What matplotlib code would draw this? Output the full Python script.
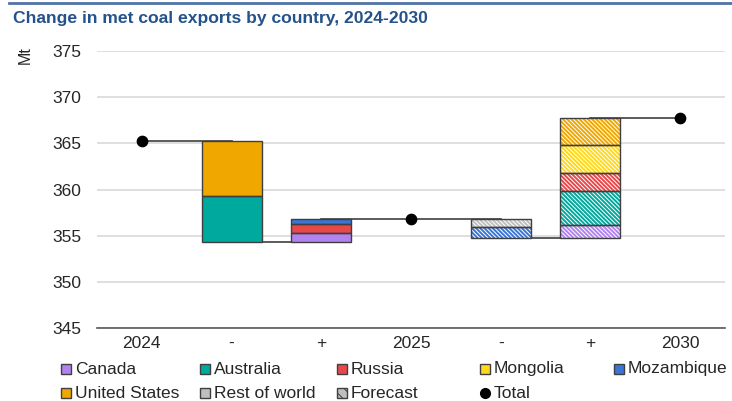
import matplotlib.pyplot as plt
from matplotlib.patches import Rectangle
from matplotlib.lines import Line2D

plt.rcParams['font.family'] = ['Liberation Sans', 'DejaVu Sans']
plt.rcParams['hatch.linewidth'] = 0.7

categories = ['2024', '-', '+', '2025', '-', '+', '2030']
totals = {'2024': 365.3, '2025': 356.8, '2030': 367.7}

# changes per step, listed from the bottom of each bar upwards
dec_2025 = [('Australia', 5.0), ('United States', 6.0)]
inc_2025 = [('Canada', 1.0), ('Russia', 1.0), ('Mozambique', 0.5)]
dec_2030 = [('Mozambique', 1.1), ('Rest of world', 0.9)]
inc_2030 = [('Canada', 1.4), ('Australia', 3.6), ('Russia', 2.0),
            ('Mongolia', 3.0), ('United States', 2.9)]

colors = {
    'Canada': '#B283EE',
    'Australia': '#00A99D',
    'Russia': '#E8484A',
    'Mongolia': '#FFD91A',
    'Mozambique': '#3A76D6',
    'United States': '#F0A800',
    'Rest of world': '#BFBFBF',
}
edge = '#3F3F3F'
hatch = '\\' * 8

fig = plt.figure(figsize=(7.32, 4.01), dpi=100)
ax = fig.add_axes([97 / 732, 1 - 328 / 401, 628 / 732, 277 / 401])


def stack(x, base, parts, forecast):
    y = base
    for name, v in parts:
        ax.bar(x, v, bottom=y, width=0.67, color=colors[name], linewidth=0, zorder=3)
        if forecast:
            ax.bar(x, v, bottom=y, width=0.67, facecolor='none', edgecolor='white',
                   linewidth=0, hatch=hatch, zorder=4)
        ax.bar(x, v, bottom=y, width=0.67, facecolor='none', edgecolor=edge,
               linewidth=1.0, zorder=5)
        y += v


low_2025 = totals['2024'] - sum(v for _, v in dec_2025)
low_2030 = totals['2025'] - sum(v for _, v in dec_2030)

stack(1, low_2025, dec_2025, False)
stack(2, low_2025, inc_2025, False)
stack(4, low_2030, dec_2030, True)
stack(5, low_2030, inc_2030, True)

# connector lines
levels = [totals['2024'], low_2025, totals['2025'], totals['2025'], low_2030, totals['2030']]
for i, lv in enumerate(levels):
    ax.plot([i, i + 1], [lv, lv], color=edge, linewidth=1.2, zorder=2)

xs = [0, 3, 6]
ax.scatter(xs, [totals[c] for c in ['2024', '2025', '2030']], s=55, color='black', zorder=6)

ax.set_xlim(-0.5, 6.5)
ax.set_ylim(345, 375)
ax.set_yticks(range(345, 376, 5))
ax.set_xticks(range(len(categories)))
ax.set_xticklabels(categories)
ax.tick_params(axis='both', length=0, labelsize=12.5, colors='#262626')
ax.tick_params(axis='y', pad=11)
ax.tick_params(axis='x', pad=6)
ax.grid(axis='y', color='#D9D9D9', linewidth=1.2, zorder=0)
ax.set_axisbelow(True)
for s in ['top', 'right', 'left']:
    ax.spines[s].set_visible(False)
ax.spines['bottom'].set_color('#595959')
ax.spines['bottom'].set_linewidth(1.2)
ax.spines['bottom'].set_zorder(1)

fig.text(25 / 732, 1 - 55 / 401, 'Mt', rotation=90, fontsize=11.5, color='#262626',
         ha='center', va='center')

# title and top rule
fig.add_artist(Line2D([9 / 732, 1], [1 - 2.5 / 401, 1 - 2.5 / 401], color='#4F74A8',
                      linewidth=2, transform=fig.transFigure))
fig.text(13 / 732, 1 - 18 / 401, 'Change in met coal exports by country, 2024-2030',
         fontsize=12.6, fontweight='bold', color='#24528A', va='center')

# legend
legend_rows = [
    ['Canada', 'Australia', 'Russia', 'Mongolia', 'Mozambique'],
    ['United States', 'Rest of world', 'Forecast', 'Total'],
]
col_x = [61, 200, 337, 480, 614]
row_y = [369, 393]
for r, row in enumerate(legend_rows):
    for c, name in enumerate(row):
        x0 = col_x[c]
        yc = row_y[r]
        if name == 'Total':
            fig.add_artist(Line2D([(x0 + 5) / 732], [1 - yc / 401], marker='o', markersize=7,
                                  color='black', linestyle='none', transform=fig.transFigure))
        else:
            fc = '#BFBFBF' if name == 'Forecast' else colors[name]
            fig.add_artist(Rectangle((x0 / 732, 1 - (yc + 5) / 401), 10 / 732, 10 / 401,
                                     facecolor=fc, edgecolor=edge, linewidth=1.0,
                                     hatch='\\\\\\' if name == 'Forecast' else None,
                                     transform=fig.transFigure))
        fig.text((x0 + 14) / 732, 1 - yc / 401, name, fontsize=12.5, color='#262626',
                 va='center')

fig.savefig('out.png', dpi=100)
